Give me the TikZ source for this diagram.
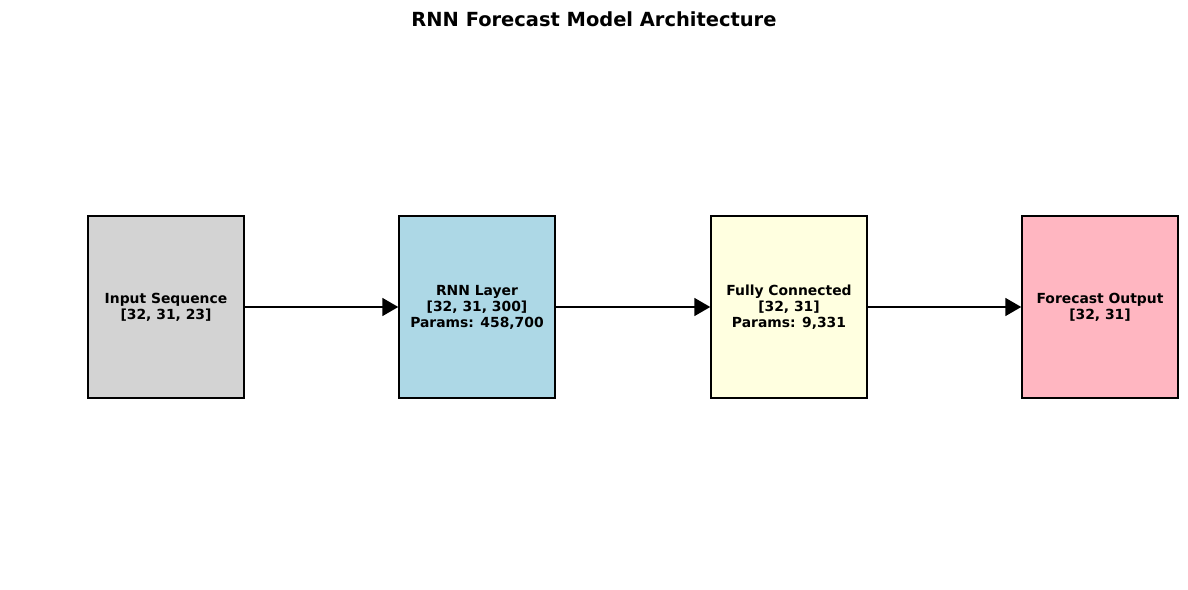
\documentclass[tikz,border=0pt]{standalone}
\usepackage{fontspec}
\setmainfont{DejaVu Sans}
\usetikzlibrary{arrows.meta}
\definecolor{cgray}{HTML}{D3D3D3}
\definecolor{cblue}{HTML}{ADD8E6}
\definecolor{cyellow}{HTML}{FFFFE0}
\definecolor{cpink}{HTML}{FFB6C1}
\tikzset{
  layerbox/.style={draw=black, line width=1.1pt, minimum width=112.3pt, minimum height=131pt,
    inner sep=0pt, align=center, font=\bfseries\fontsize{10}{11.5}\selectfont},
  flow/.style={line width=1.1pt, -{Triangle[length=11.5pt, width=13pt]}, shorten >=0pt}
}
\begin{document}
\begin{tikzpicture}[x=0.72pt, y=-0.72pt]
\useasboundingbox (0,0) rectangle (1188,590);
\node[font=\bfseries\fontsize{14}{16}\selectfont] (title) at (594,19) {RNN Forecast Model Architecture};
\node[layerbox, fill=cgray] (in) at (166,307) {Input Sequence\\{}[32, 31, 23]};
\node[layerbox, fill=cblue] (rnn) at (477,307) {RNN Layer\\{}[32, 31, 300]\\Params: 458,700};
\node[layerbox, fill=cyellow] (fc) at (789,307) {Fully Connected\\{}[32, 31]\\Params: 9,331};
\node[layerbox, fill=cpink] (out) at (1100,307) {Forecast Output\\{}[32, 31]};
\draw[flow] (in) -- (rnn);
\draw[flow] (rnn) -- (fc);
\draw[flow] (fc) -- (out);
\end{tikzpicture}
\end{document}
